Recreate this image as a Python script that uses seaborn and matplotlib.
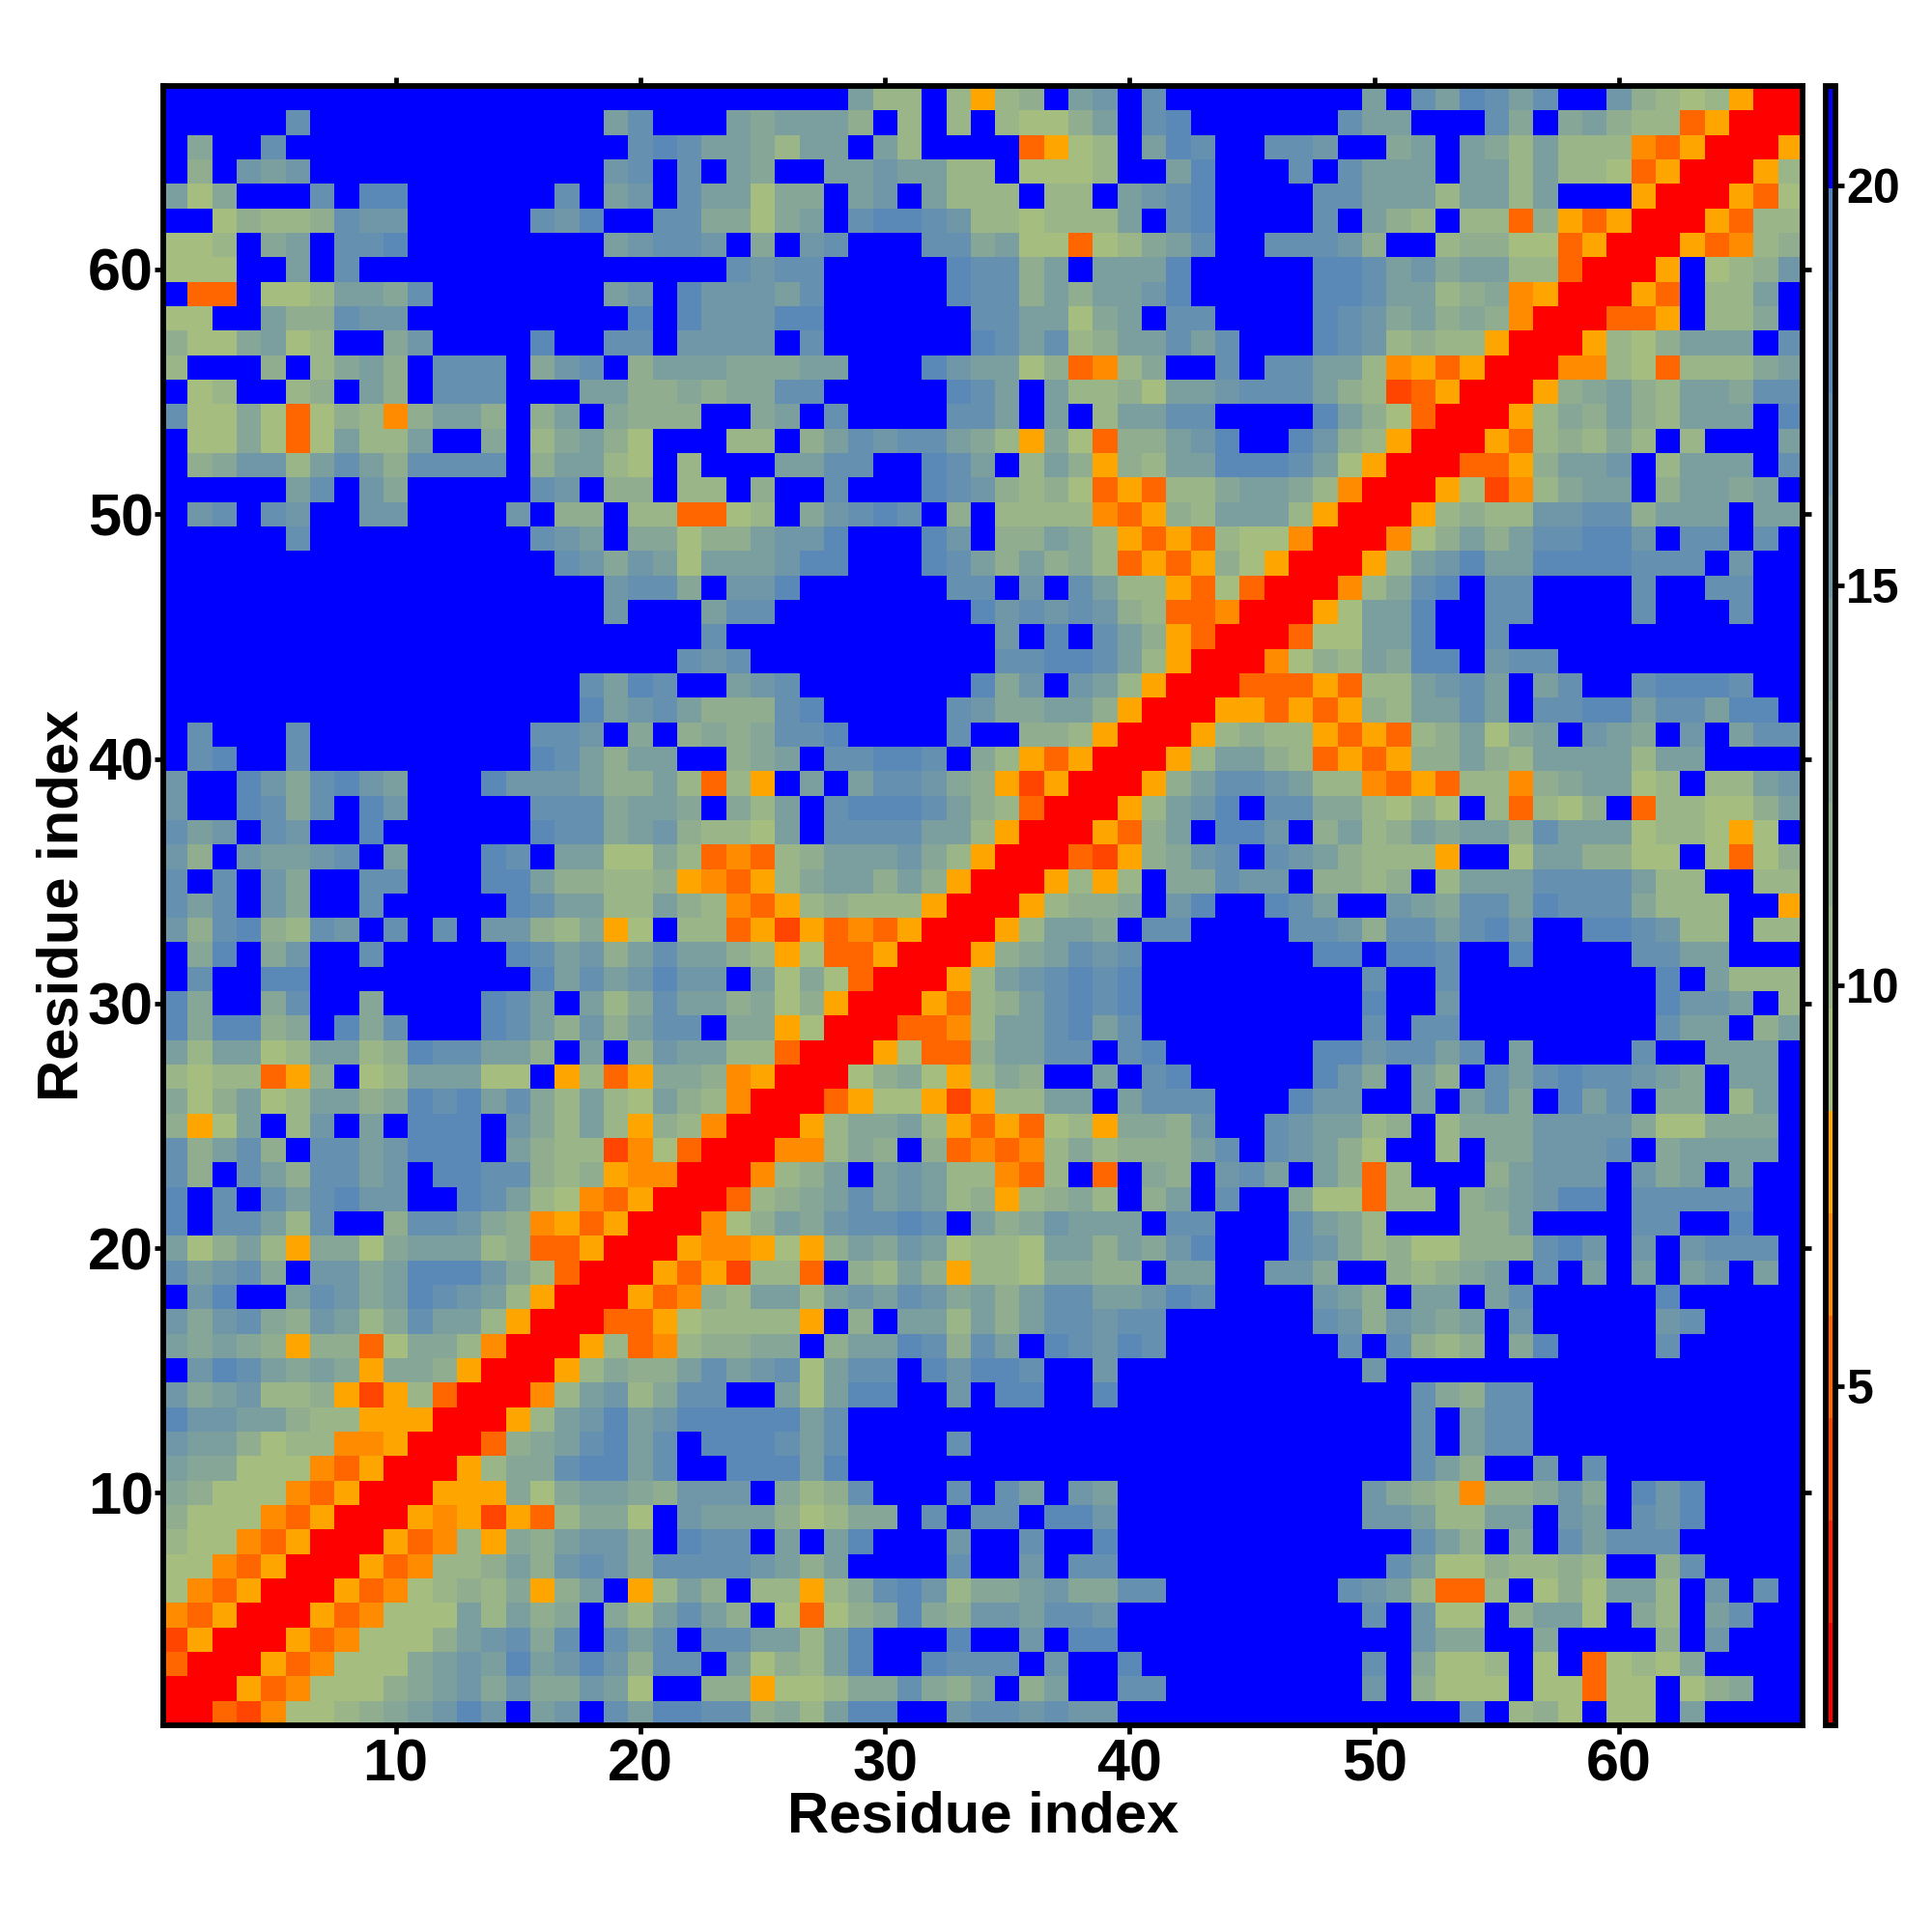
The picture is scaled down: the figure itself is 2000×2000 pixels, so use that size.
import numpy as np
import matplotlib
matplotlib.use("Agg")
import matplotlib.pyplot as plt
from matplotlib.colors import ListedColormap, BoundaryNorm
from matplotlib.cm import ScalarMappable
import seaborn as sns

# Distance bins
bin_low = 0.76
bin_width = 1.28
bin_colors = ["#ff0000", "#ff2200", "#ff4500", "#ff6600", "#ff8c00", "#ffa500",
              "#a5be80", "#9ab688", "#90ae8f", "#86a797", "#7b9f9f", "#7097a7",
              "#6590af", "#5a88b7", "#5080bf", "#0000ff"]

# Upper triangle of the symmetric residue map: row r holds columns r..67,
# each hex digit being the colour-bar bin of that cell.
rows = [
 "00324667" "89abdbfabfcaddcc89" "7addffbccbcbb" + "f"*14 + "cf786f66faffff",
 "0053466689ab9b99ba6ff8856" "6799c98af8affcc" "ffffffff" "bf8666f66366f689ff",
 "005346669abadabdb8ccfa68" "7adffdcccfbffdf" "ffffffff" "cf9667f6f36769ffff",
 "005346668abc9cfcacfccaa" "7adfffdffbfddff" + "f"*10 + "b99ff9ffff8fbfff",
 "00534666a7a89f97aca8f6" "3689d98bbaccb" + "f"*10 + "cfb66f8aa6f97facff",
 "005346787958af57a8f77" "579cdb799ab99cc" + "f"*7 + "cba7337f686aa7fbfcf",
 "00534778a8bcb9ccccba" "8affffcffbfccff" + "f"*9 + "ca6687787ff8cffff",
 "005347598abb9fdccfa" "fadfffbffcffdff" + "f"*10 + "ca8f9fcacccfffff",
 "005452537996fbaaa8" "6799fcfccfddb" + "f"*10 + "bba77aafbafcbdffff",
 "00555969aa98bbbf9" "78cfffcfcafba" + "f"*10 + "b9874889b9fdbdffff",
 "005799cddacffddd" "ad" + "f"*23 + "ca8ffbfc" + "f"*8,
 "00389acdacfdddc" "acffffc" + "f"*18 + "cfacc" + "f"*11,
 "0057abdabddddd" "ac" + "f"*23 + "cfacc" + "f"*11,
 "0047ab79ccffa" "6addffbfddffd" + "f"*12 + "c98cc" + "f"*11,
 "0057988acabc" "6accfdbddcffb" + "f"*10 + "b" + "f"*17,
 "00573478899" "f8aadc8cafdcbdc" + "f"*7 + "cfc878f9dffffcfffff",
 "0033567777" "5f8faa7a8accbcc" + "f"*6 + "cb8ba9afbfffffbcffff",
 "0053487aa" "7abacb9a8accaabdc" "ffff" "ba8faafacfffffdfffff",
 "00535277" "3f87a857769988f" "aaffbb9ff8789afcfafafabfaf",
 "0054456" "58a9ba6776aa8a9" "bdfffcb97866888cdbfbfbcccf",
 "00468a" "9bccdcfa89baaaf" "ccfffca97fff88affffccffdff",
 "00378" "9acaba7857897f8" "afcff966377f89abddfcccccff",
 "0047" "8afaba77437f3f9" "8fbcafa837fff8abbbfb9afaff",
 "004" "4798f8343479788" "8acfcba86ff7f99bbbcf9aaaaf",
 "00" "5799a7535367599" "8bffcbaa78f7999bbbb966999f",
 "0" "0356652577aafac" "ccfffdbbffafac9fdacf99f7af",
 "0068965798ffafc" "dfffffdb9fa8fcacdccba9faaf",
 "0056338aaccfcd" "ffffffddbccacfaffffcffaaaf",
 "003347aacdacf" + "f"*8 + "cfcc" + "f"*8 + "caaf8a",
 "005378acdcdf" + "f"*8 + "dffb" + "f"*8 + "dbbaf7",
 "0057abcdcdf" + "f"*8 + "cffc" + "f"*8 + "dfa777",
 "00589acbcf" "ffffffddfddcffdffffccaafff",
 "0057aa9fc" "cffffccb8ccacdbffddcb77f77",
 "0057889f" "bdffdcaffba9ccadccc9777ff5",
 "005757f" "99cbbf8878f7aaacccca77ff77",
 "003258" "9bcfcba87775ff6aa8866f6368",
 "00538" "afddbf8a78a9aa8caaa677656f",
 "0057" "abdfcc997686f73768f377668a",
 "005" "8accba77435377489aa67f77ab",
 "00" "57aa87353588a87aaaa7aaffff",
 "0" "057877535378a69afba9fbfacc",
 "0055353587aacafccddaccaddf",
 "003335377abcafacffcdddcff",
 "004687a9ddfbcc" + "f"*10,
 "00366aadffc" + "f"*12,
 "0056aadffcc" "ffffcfffcff",
 "00479cdfcc" "ffffcffccff",
 "0057abdaa" "ddddcccfbff",
 "00468a8a" "ccddbfccfcf",
 "0057877" "bbcc8aaafaa",
 "00562479aaf8aa9af",
 "003358aabf7aaafc",
 "005378797f7fffa",
 "005798a87aaafd",
 "00589a87aa9cc",
 "00447637779a",
 "005768aaafc",
 "00335f779f",
 "0053f77af",
 "005f678b",
 "0053478",
 "005377",
 "00536",
 "0057",
 "005",
 "00",
 "0",
]
tick_values = [10, 20, 30, 40, 50, 60]
cbar_ticks = [5, 10, 15, 20]
axis_label = "Residue index"

n = len(rows)
levels = np.zeros((n, n))
for r, text in enumerate(rows):
    assert len(text) == n - r, (r + 1, len(text))
    for k, ch in enumerate(text):
        levels[r, r + k] = levels[r + k, r] = int(ch, 16)
distance = bin_low + bin_width * (levels + 0.5)
edges = bin_low + bin_width * np.arange(len(bin_colors) + 1)
cmap = ListedColormap(bin_colors)
norm = BoundaryNorm(edges, cmap.N)

sns.set_theme(style="white")
plt.rcParams["font.family"] = ["Liberation Sans", "DejaVu Sans"]
plt.rcParams["font.weight"] = "bold"
plt.rcParams["text.color"] = "black"

W = 2000.0
fig = plt.figure(figsize=(10, 10), dpi=200, facecolor="white")
ax = fig.add_axes([169 / W, 214 / W, 1697 / W, 1697 / W])
cax = fig.add_axes([1889.5 / W, 214 / W, 11 / W, 1697 / W])

sns.heatmap(distance, ax=ax, cmap=cmap, norm=norm, cbar=False, square=False,
            xticklabels=False, yticklabels=False, linewidths=0, rasterized=True)
ax.set_xlim(0, n)
ax.set_ylim(0, n)
pos = [v - 0.5 for v in tick_values]
ax.set_xticks(pos)
ax.set_xticklabels([str(v) for v in tick_values], fontsize=22, fontweight="bold", color="black")
ax.set_yticks(pos)
ax.set_yticklabels([str(v) for v in tick_values], fontsize=22, fontweight="bold", color="black")
ax.tick_params(axis="both", which="major", direction="out", length=3.2, width=1.7, color="black",
               top=True, right=True, bottom=True, left=True,
               labelbottom=True, labelleft=True, labeltop=False, labelright=False)
ax.tick_params(axis="x", pad=1.8)
ax.tick_params(axis="y", pad=0.4)
ax.set_xlabel(axis_label, fontsize=21.5, fontweight="bold", color="black", labelpad=-1.2)
ax.set_ylabel(axis_label, fontsize=21.5, fontweight="bold", color="black", labelpad=-0.7)
for s in ax.spines.values():
    s.set_visible(True)
    s.set_linewidth(2.1)
    s.set_color("black")

cb = fig.colorbar(ScalarMappable(norm=norm, cmap=cmap), cax=cax, spacing="proportional")
cb.set_ticks(cbar_ticks)
cb.set_ticklabels([str(v) for v in cbar_ticks])
cb.ax.tick_params(axis="y", which="both", direction="out", length=3.2, width=1.7, color="black",
                  labelsize=18, labelcolor="black", pad=0.6, right=True, left=False)
cb.ax.minorticks_off()
for lab in cb.ax.get_yticklabels():
    lab.set_fontweight("bold")
cb.outline.set_linewidth(2.1)
cb.outline.set_edgecolor("black")

fig.savefig("out.png", dpi=200, facecolor="white")
